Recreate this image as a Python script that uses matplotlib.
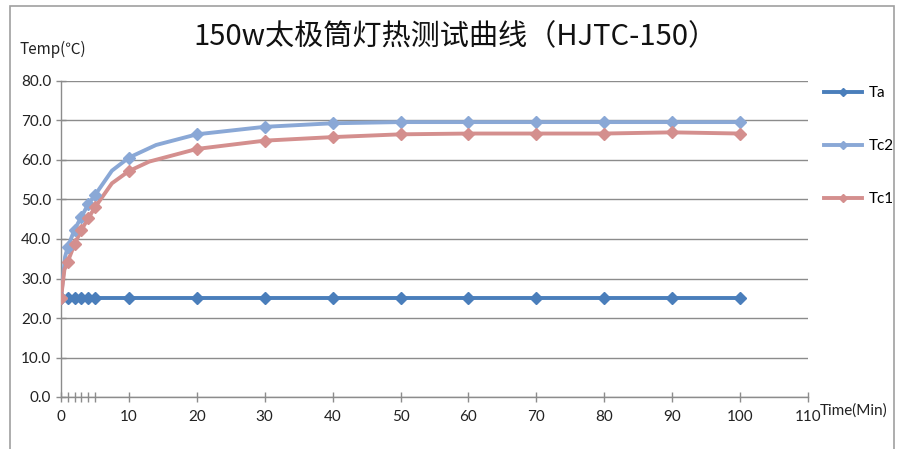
import matplotlib.pyplot as plt
import matplotlib.patches as mpatches
import numpy as np

plt.rcParams['font.family'] = ['Lato', 'Noto Sans CJK SC', 'DejaVu Sans']

# 数据
t = [0, 1, 2, 3, 4, 5, 10, 20, 30, 40, 50, 60, 70, 80, 90, 100]
ta = [25.0, 25.0, 25.0, 25.0, 25.0, 25.0, 25.0, 25.0, 25.0, 25.0, 25.0, 25.0, 25.0, 25.0, 25.0, 25.0]
tc2 = [25.0, 38.0, 42.4, 45.6, 48.8, 51.1, 60.6, 66.5, 68.4, 69.3, 69.6, 69.6, 69.6, 69.6, 69.6, 69.6]
tc1 = [25.0, 34.3, 38.7, 42.3, 45.2, 48.0, 57.2, 62.8, 64.9, 65.8, 66.5, 66.7, 66.7, 66.7, 67.0, 66.7]

# 平滑曲线上的中间点（无标记）
tc2_mid_t = [0.6, 7.5, 14]
tc2_mid = [35.5, 57.3, 63.8]
tc1_mid_t = [0.5, 7.5, 13]
tc1_mid = [32.2, 54.1, 59.6]

x_labels = ['0', '', '', '', '', '', '10', '20', '30', '40', '50', '60', '70', '80', '90', '100', '110']
x_ticks = [0, 1, 2, 3, 4, 5, 10, 20, 30, 40, 50, 60, 70, 80, 90, 100, 110]

c_ta = '#4a7ebb'
c_tc2 = '#8aa8d6'
c_tc1 = '#d48f8e'
gc = '#8c8c8c'

W, H = 906, 449
fig = plt.figure(figsize=(W / 100, H / 100), dpi=100)
ax = fig.add_axes([61 / W, (H - 397) / H, (808 - 61) / W, (397 - 81) / H])


def merged(tm, vm, tx, vx):
    p = sorted(zip(list(tm) + list(tx), list(vm) + list(vx)))
    return [a for a, b in p], [b for a, b in p]


def draw(tm, vm, tx, vx, col, lab):
    xs, ys = merged(tm, vm, tx, vx)
    ax.plot(xs, ys, color=col, lw=2.8, solid_joinstyle='round', zorder=3)
    ax.plot(tm, vm, color=col, lw=0, marker='D', ms=6.2, zorder=4)
    return ax.plot([], [], color=col, lw=2.8, marker='D', ms=4.5, label=lab)[0]


h1 = draw(t, ta, [], [], c_ta, 'Ta')
h2 = draw(t, tc2, tc2_mid_t, tc2_mid, c_tc2, 'Tc2')
h3 = draw(t, tc1, tc1_mid_t, tc1_mid, c_tc1, 'Tc1')

ax.set_xlim(0, 110)
ax.set_ylim(0, 80)
ax.set_xticks(x_ticks)
ax.set_xticklabels(x_labels)
ax.set_yticks(np.arange(0, 81, 10))
ax.set_yticklabels([f'{v:.1f}' for v in np.arange(0, 81, 10)])
ax.tick_params(axis='both', direction='inout', length=7, color=gc, width=1,
               labelsize=11, labelcolor='#222222')
ax.tick_params(axis='x', pad=6)
ax.grid(axis='y', color=gc, lw=1)
ax.set_axisbelow(True)
for s in ['top', 'right']:
    ax.spines[s].set_visible(False)
for s in ['left', 'bottom']:
    ax.spines[s].set_color(gc)
    ax.spines[s].set_linewidth(1)
ax.spines['bottom'].set_zorder(5)

fig.text(455 / W, 1 - 37 / H, '150w太极筒灯热测试曲线（HJTC-150）', ha='center', va='center',
         fontsize=21, family=['Noto Sans CJK SC', 'DejaVu Sans'], color='#111111')
fig.text(20 / W, 1 - 49 / H, 'Temp(℃)', ha='left', va='center', fontsize=11,
         family=['Noto Sans CJK SC', 'DejaVu Sans'], color='#222222')
fig.text(820 / W, 1 - 411 / H, 'Time(Min)', ha='left', va='center', fontsize=11,
         color='#222222')

fig.legend(handles=[h1, h2, h3], loc='upper left', bbox_to_anchor=(818 / W, 1 - 80 / H),
           frameon=False, fontsize=11, handlelength=2.5, handletextpad=0.4,
           labelspacing=2.55, borderaxespad=0)

# 外框
fig.patches.append(mpatches.Rectangle((10 / W, -0.1), (894 - 10) / W, 1.1 - 6 / H,
                                      transform=fig.transFigure, fill=False,
                                      edgecolor='#a0a0a0', lw=1.2))

fig.savefig('out.png', dpi=100)
